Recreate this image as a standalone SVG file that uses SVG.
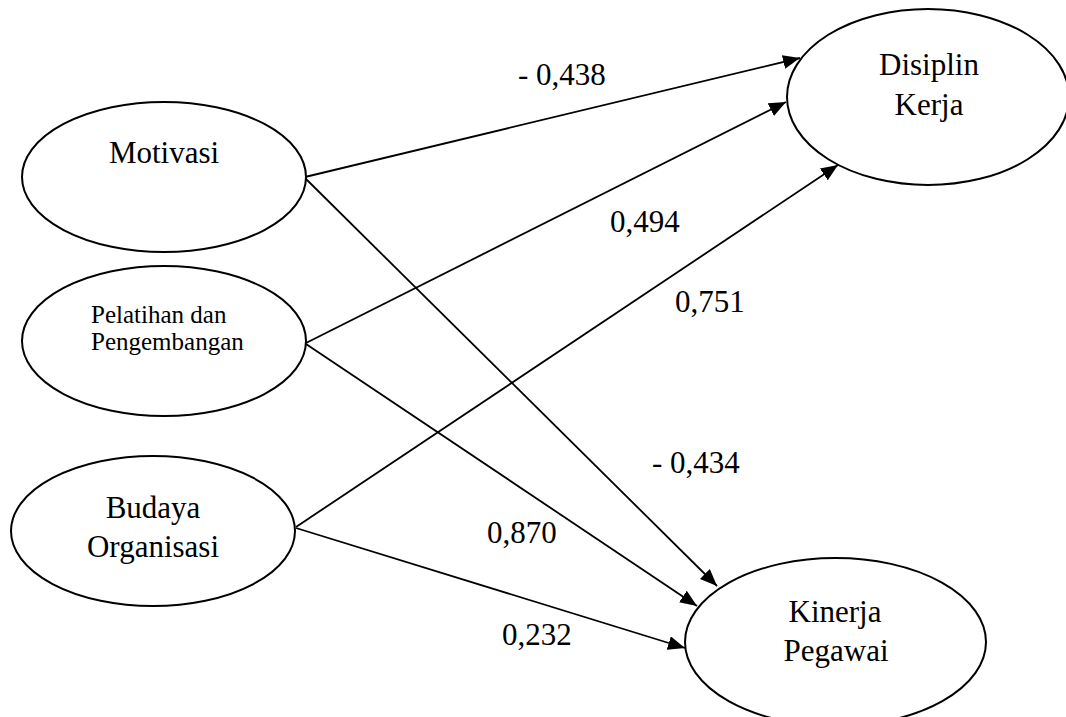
<svg xmlns="http://www.w3.org/2000/svg" width="1066" height="717" viewBox="0 0 1066 717">
<style>
.node ellipse{fill:#fff;stroke:#000;stroke-width:2}
text{font-family:"Liberation Serif","Times New Roman",serif;fill:#000}
.big{font-size:31px;text-anchor:middle}
.small{font-size:25px}
.lbl{font-size:31px}
.edges line{stroke:#000;stroke-width:1.8;marker-end:url(#arr)}
</style>
<defs>
<marker id="arr" markerUnits="userSpaceOnUse" markerWidth="18" markerHeight="14" refX="17" refY="7" orient="auto">
<path d="M0,0 L17,7 L0,14 Z" fill="#000"/>
</marker>
</defs>
<rect width="1066" height="717" fill="#fff"/>
<g class="edges">
<line x1="305" y1="177" x2="800" y2="58"/>
<line x1="306" y1="343" x2="786" y2="102"/>
<line x1="296" y1="527" x2="838" y2="165"/>
<line x1="305" y1="178" x2="717" y2="586"/>
<line x1="306" y1="344" x2="697" y2="606"/>
<line x1="296" y1="528" x2="685" y2="648"/>
</g>
<g id="motivasi" class="node">
<ellipse cx="164" cy="177" rx="142" ry="75"/>
<text class="big" x="164" y="163">Motivasi</text>
</g>
<g id="pelatihan" class="node">
<ellipse cx="164" cy="341" rx="142" ry="75"/>
<text class="small" x="91" y="323">Pelatihan dan</text>
<text class="small" x="91" y="350">Pengembangan</text>
</g>
<g id="budaya" class="node">
<ellipse cx="153" cy="531" rx="142" ry="75"/>
<text class="big" x="153" y="518">Budaya</text>
<text class="big" x="153" y="557">Organisasi</text>
</g>
<g id="disiplin" class="node">
<ellipse cx="928" cy="97" rx="141" ry="88"/>
<text class="big" x="929" y="75">Disiplin</text>
<text class="big" x="929" y="115">Kerja</text>
</g>
<g id="kinerja" class="node">
<ellipse cx="835.5" cy="642" rx="150.5" ry="84"/>
<text class="big" x="835" y="622">Kinerja</text>
<text class="big" x="836" y="661">Pegawai</text>
</g>
<g id="labels">
<text class="lbl" x="518" y="85">- 0,438</text>
<text class="lbl" x="610" y="232">0,494</text>
<text class="lbl" x="675" y="312">0,751</text>
<text class="lbl" x="652" y="473">- 0,434</text>
<text class="lbl" x="487" y="543">0,870</text>
<text class="lbl" x="502" y="645">0,232</text>
</g>
</svg>
